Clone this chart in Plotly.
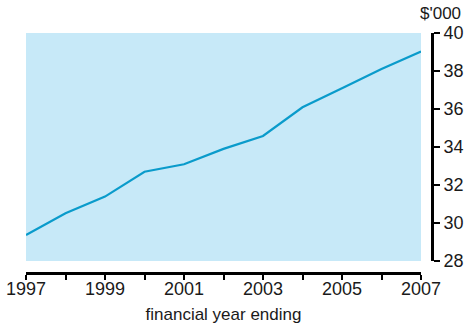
import plotly.graph_objects as go

years = [1997, 1998, 1999, 2000, 2001, 2002, 2003, 2004, 2005, 2006, 2007]
values = [29.37, 30.51, 31.39, 32.70, 33.09, 33.90, 34.58, 36.09, 37.09, 38.11, 39.02]
y_ticks = [28, 30, 32, 34, 36, 38, 40]
x_ticks = [1997, 1999, 2001, 2003, 2005, 2007]

W, H = 465, 326
L, R, T, B = 26, 33, 33, 53
pw, ph = W - L - R, H - T - B

FONT = "Liberation Sans, Arial, Helvetica, sans-serif"

fig = go.Figure()
fig.add_trace(go.Scatter(x=years, y=values, mode="lines",
                         line=dict(color="#0A9BCB", width=2.2),
                         hoverinfo="skip", showlegend=False))

fig.update_layout(
    width=W, height=H,
    margin=dict(l=L, r=R, t=T, b=B, pad=0, autoexpand=False),
    paper_bgcolor="white",
    plot_bgcolor="#C7E9F8",
    font=dict(family=FONT, size=17, color="#1a1a1a"),
    xaxis=dict(
        domain=[0, (421 - L) / pw],
        range=[1997, 2007],
        anchor="free", position=0, automargin=False,
        tickvals=x_ticks, ticktext=[str(v) for v in x_ticks],
        ticks="outside", ticklen=5, tickwidth=2, tickcolor="black",
        minor=dict(dtick=1, tick0=1997, ticks="outside", ticklen=5, tickwidth=2, tickcolor="black"),
        showline=True, linecolor="black", linewidth=3,
        showgrid=False, zeroline=False,
        ticklabelstandoff=-7,
        title=dict(text="financial year ending", standoff=10, font=dict(size=17)),
        tickfont=dict(size=18),
    ),
    yaxis=dict(
        domain=[12 / ph, 1],
        range=[28, 40],
        side="right", anchor="free", position=1, automargin=False,
        tickvals=y_ticks,
        ticks="outside", ticklen=6, tickwidth=2, tickcolor="black",
        showline=True, linecolor="black", linewidth=3,
        showgrid=False, zeroline=False,
        tickfont=dict(size=18),
    ),
    annotations=[dict(text="$'000", xref="paper", yref="paper",
                      x=(463 - L) / pw, y=(H - 13 - B) / ph,
                      xanchor="right", yanchor="middle", showarrow=False,
                      font=dict(size=17, family=FONT, color="#1a1a1a"))],
)

fig.write_html("out.html")
